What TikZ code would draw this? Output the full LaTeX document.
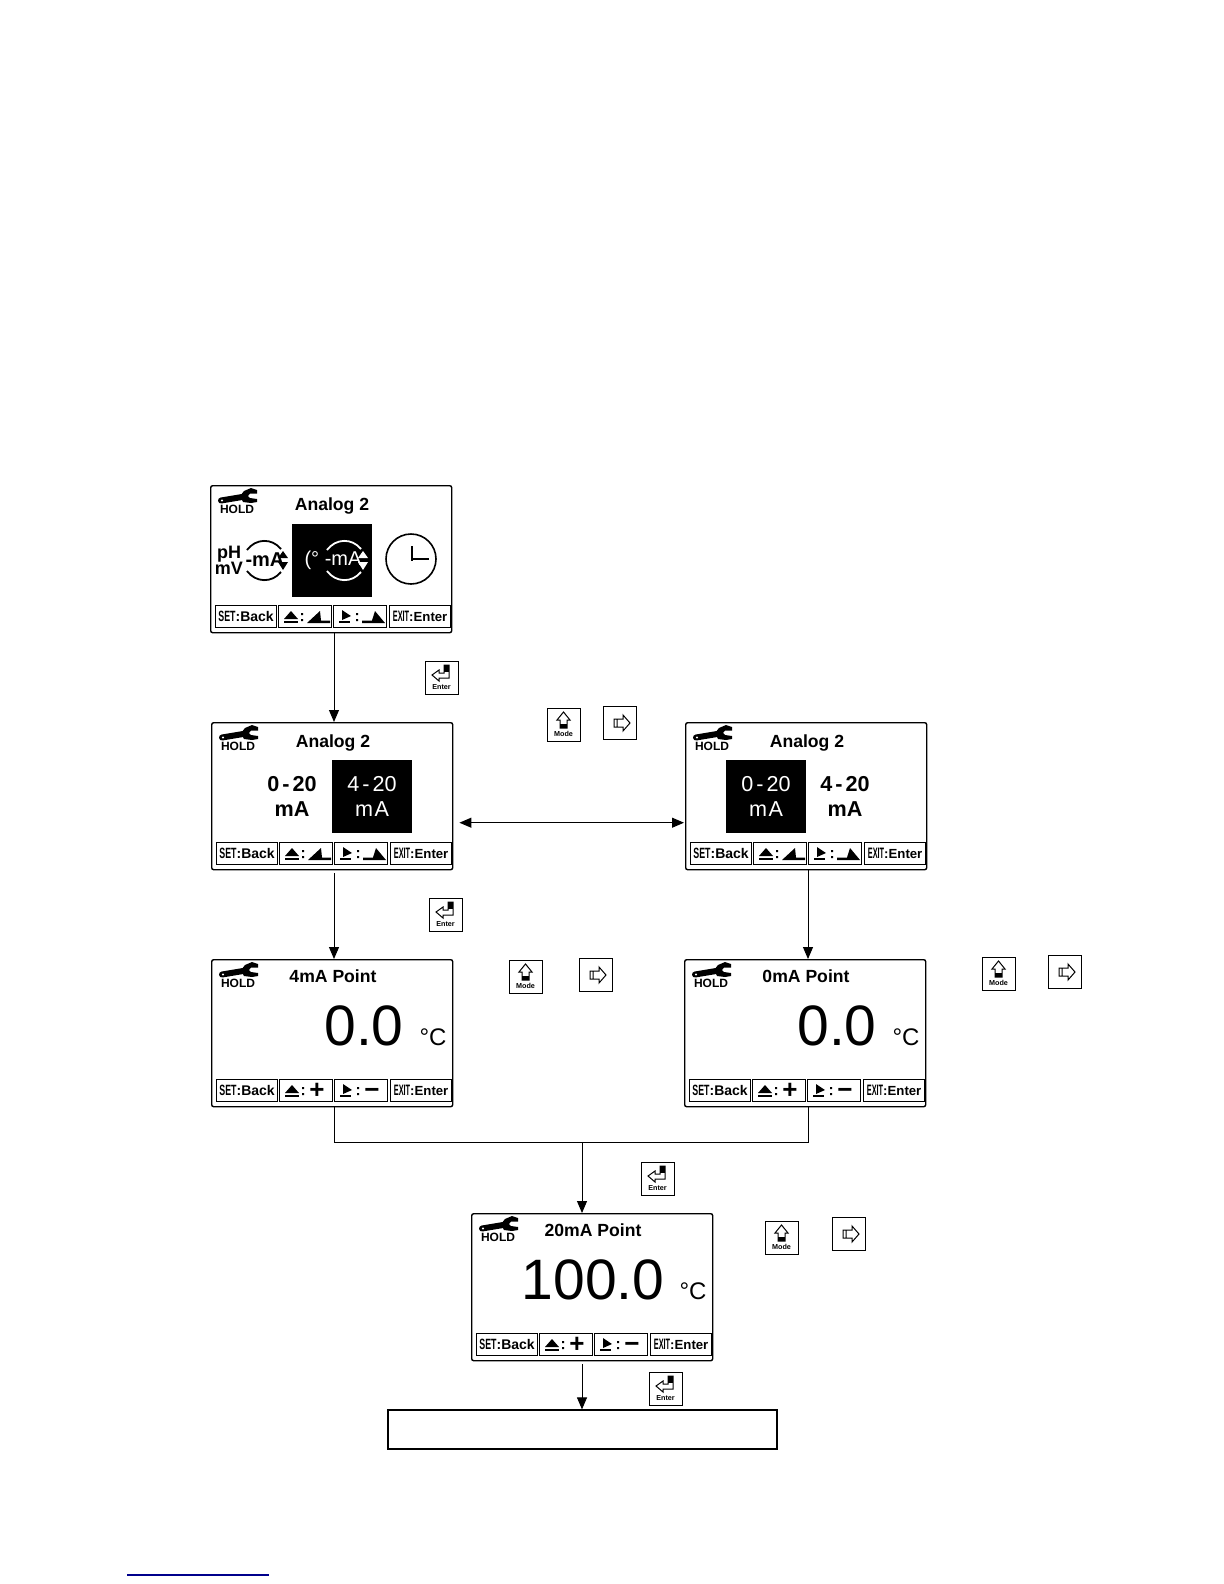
\documentclass[tikz,border=0pt]{standalone}
\usepackage{fontspec}
\usepackage{graphicx}
\setmainfont{Liberation Sans}
\usetikzlibrary{arrows.meta}

% tiny squeezed label inside a soft key
\newcommand\tinykey[2]{\raisebox{.1pt}{\resizebox{#1}{5.2pt}{\bfseries #2}}}
\newcommand\fsz[1]{\fontsize{#1}{#1}\selectfont}

% glyphs of the soft keys, ramp version
\newcommand\keycolons{%
  \fill (90,128) rectangle (92,130) (90,134) rectangle (92,136);
  \fill (145,128) rectangle (147,130) (145,134) rectangle (147,136);}
\newcommand\keymarks{%
  \fill (73,134) -- (80,126) -- (87,134) -- cycle;
  \fill (73,135.5) rectangle (87,138);
  \fill (131,125) -- (140,131) -- (131,135) -- cycle;
  \fill (128,135.5) rectangle (139,138);}
\newcommand\rampkeys{\keymarks\keycolons
  \fill (96,138) -- (109,126) -- (110,135.5) -- (119,135.5) -- (119,138) -- cycle;
  \fill (151,138) -- (151,135.5) -- (161,135.5) -- (164,126) -- (174,138) -- cycle;}
\newcommand\valkeys[1]{\keymarks\keycolons
  \node[bigkey] (#1p) at (105,139.5) {+};
  \node[bigkey] (#1m) at (160,139.5) {−};}

% one instrument screen: name, x, y, title, contents
\newcommand\screenbox[5]{%
\begin{scope}[shift={(#2,#3)}]
  \node[scr] (#1) at (-1,0) {};
  \draw[line width=3pt,line cap=round] (10,15.5) -- (31,12);
  \fill (46,5) -- (40,3) -- (33,6) -- (29,11) -- (32,17) -- (40,18) -- (46,17) -- (46,14) -- (39,13) -- (37,11) -- (39,8.5) -- (46,8.5) -- cycle;
  \fill[white] (11,15.5) circle (1.2);
  \node[holdtxt] (#1h) at (26,24.5) {HOLD};
  \node[titletxt] (#1t) at (121,25.5) {#4};
  \node[skey,minimum width=30.5pt] (#1a) at (4,120) {\tinykey{8.6pt}{SET}\fsz{7}:Back};
  \node[skey,minimum width=26.5pt] (#1b) at (67,120) {};
  \node[skey,minimum width=26.5pt] (#1c) at (122,120) {};
  \node[skey,minimum width=30.5pt] (#1d) at (178,120) {\tinykey{8.2pt}{EXIT}\fsz{6.6}:Enter};
  #5
\end{scope}}

% range choice text, plain and inverted
\newcommand\rangebold[3]{%
  \node[rangetxt,font=\fsz{10.8}\bfseries] (#1u) at (#2,62) {#3\hspace{1.5pt}-\hspace{1.5pt}20};
  \node[rangetxt,font=\fsz{10.8}\bfseries] (#1l) at (#2,87) {mA};}
\newcommand\rangeinv[3]{%
  \fill (#2-40,38) rectangle (#2+40,111);
  \node[rangetxt,text=white] (#1u) at (#2,62) {#3\hspace{1.5pt}-\hspace{1.5pt}20};
  \node[rangetxt,text=white] (#1l) at (#2,87) {m\hspace{.8pt}A};}

% arcs and up/down marks of the output icon
\newcommand\outicon[2]{%
  \draw[#2,line width=.9pt] (#1-17,65) .. controls (#1-8,53) and (#1+8,53) .. (#1+17,64);
  \draw[#2,line width=.9pt] (#1-17,86) .. controls (#1-8,98) and (#1+8,98) .. (#1+17,87);
  \fill[#2] (#1+14,73) -- (#1+19,66) -- (#1+24,73) -- cycle;
  \fill[#2] (#1+14,77) -- (#1+19,85) -- (#1+24,77) -- cycle;}

% key pictures: name, x, y
\newcommand\enterkey[3]{%
\begin{scope}[shift={(#2,#3)}]
  \node[keybox] (#1) at (0,0) {};
  \draw[line width=.5pt] (7,14) -- (14,9) -- (14,12) -- (19,12) -- (19,4) -- (24,4) -- (24,17) -- (14,17) -- (14,20) -- cycle;
  \fill (19,4) rectangle (24,11);
  \node[keytxt] (#1l) at (16.5,26) {Enter};
\end{scope}}
\newcommand\modekey[3]{%
\begin{scope}[shift={(#2,#3)}]
  \node[keybox] (#1) at (0,0) {};
  \draw[line width=.5pt] (16.5,4) -- (23,12) -- (20,12) -- (20,20) -- (13,20) -- (13,12) -- (10,12) -- cycle;
  \fill (13,16) rectangle (20,20);
  \node[keytxt] (#1l) at (16.5,26) {Mode};
\end{scope}}
\newcommand\rightkey[3]{%
\begin{scope}[shift={(#2,#3)}]
  \node[keybox] (#1) at (0,0) {};
  \draw[line width=.5pt] (11,13) -- (20,13) -- (20,9) -- (27,17) -- (20,25) -- (20,21) -- (11,21) -- cycle (14,13) -- (14,21);
\end{scope}}

\begin{document}
\begin{tikzpicture}[x=.5pt,y=-.5pt,
  scr/.style={draw,line width=.7pt,rounded corners=1pt,anchor=north west,inner sep=0pt,minimum width=120.5pt,minimum height=73.5pt},
  skey/.style={draw,line width=.6pt,anchor=north west,inner sep=0pt,minimum height=11pt,font=\bfseries},
  bigkey/.style={inner sep=0pt,anchor=base,font=\fsz{13}\bfseries},
  holdtxt/.style={inner sep=0pt,font=\fsz{6}\bfseries},
  titletxt/.style={inner sep=0pt,anchor=base,font=\fsz{8.8}\bfseries},
  rangetxt/.style={inner sep=0pt,font=\fsz{10.8}},
  valtxt/.style={inner sep=0pt,font=\fsz{28.5}},
  unittxt/.style={inner sep=0pt,font=\fsz{12}},
  icontxt/.style={inner sep=0pt,font=\fsz{9}\bfseries},
  keybox/.style={draw,line width=.45pt,anchor=north west,inner sep=0pt,minimum size=16.6pt},
  keytxt/.style={inner sep=0pt,font=\fsz{3.6}\bfseries},
  arr/.style={-{Triangle[length=6pt,width=5pt]},line width=.5pt},
  arrb/.style={{Triangle[length=6pt,width=5pt]}-{Triangle[length=6pt,width=5pt]},line width=.5pt}]
\useasboundingbox (0,0) rectangle (1224,1584);

\screenbox{menu}{211}{485}{Analog 2}{\rampkeys
  \node[icontxt] (menup) at (18,69) {pH};
  \node[icontxt] (menum) at (18,83) {mV};
  \node[icontxt,font=\fsz{10}\bfseries] (menuo) at (54,75) {-mA};
  \outicon{53}{black}
  \fill (81,39) rectangle (161,112);
  \node[icontxt,font=\fsz{10},text=white] (menut) at (122,75) {(° -mA};
  \outicon{133}{white}
  \draw[line width=.8pt] (200,74) circle (25);
  \draw[line width=.9pt] (201,61) -- (201,76);
  \draw[line width=.8pt] (201,74) -- (218,74);}

\screenbox{rfour}{212}{722}{Analog 2}{\rampkeys
  \rangebold{rfa}{80}{0}
  \rangeinv{rfb}{160}{4}}
\screenbox{rzero}{686}{722}{Analog 2}{\rampkeys
  \rangeinv{rza}{80}{0}
  \rangebold{rzb}{159}{4}}

\screenbox{pfour}{212}{959}{\raisebox{1pt}{4mA Point}}{\valkeys{pfour}
  \node[valtxt] (pfourv) at (152,67) {0.0};
  \node[unittxt] (pfouru) at (221,78) {°C};}
\screenbox{pzero}{685}{959}{\raisebox{1pt}{0mA Point}}{\valkeys{pzero}
  \node[valtxt] (pzerov) at (152,67) {0.0};
  \node[unittxt] (pzerou) at (221,78) {°C};}
\screenbox{ptwenty}{472}{1213}{\raisebox{1pt}{20mA Point}}{\valkeys{ptwenty}
  \node[valtxt] (ptwentyv) at (121,67) {100.0};
  \node[unittxt] (ptwentyu) at (221,78) {°C};}

\node[draw,line width=.6pt,minimum width=194.5pt,minimum height=19.5pt,inner sep=0pt] (done) at (582.5,1429.5) {};

\enterkey{ea}{425}{661}
\enterkey{eb}{429}{898}
\enterkey{ec}{641}{1162}
\enterkey{ed}{649}{1372}
\modekey{ma}{547}{708}
\rightkey{ra}{603}{706}
\modekey{mb}{509}{960}
\rightkey{rb}{579}{958}
\modekey{mc}{982}{957}
\rightkey{rc}{1048}{955}
\modekey{md}{765}{1221}
\rightkey{rd}{832}{1217}

\coordinate (lane) at (334,1000);
\coordinate (rane) at (808,1000);
\coordinate (join) at (582,1142);
\draw[arr] (lane |- menu.south) -- (lane |- rfour.north);
\draw[arrb] ([xshift=3pt,yshift=-13.25pt]rfour.east) -- ([xshift=-.5pt,yshift=-13.25pt]rzero.west);
\draw[arr] ([yshift=-1.5pt]lane |- rfour.south) -- (lane |- pfour.north);
\draw[arr] (rane |- rzero.south) -- (rane |- pzero.north);
\draw[line width=.5pt] (lane |- pfour.south) |- (join) -| (rane |- pzero.south);
\draw[arr] (join) -- (join |- ptwenty.north);
\draw[arr] ([yshift=-1.5pt]join |- ptwenty.south) -- (join |- done.north);
\draw[line width=.8pt,blue!55!black] (127,1575) -- (269,1575);
\end{tikzpicture}
\end{document}
